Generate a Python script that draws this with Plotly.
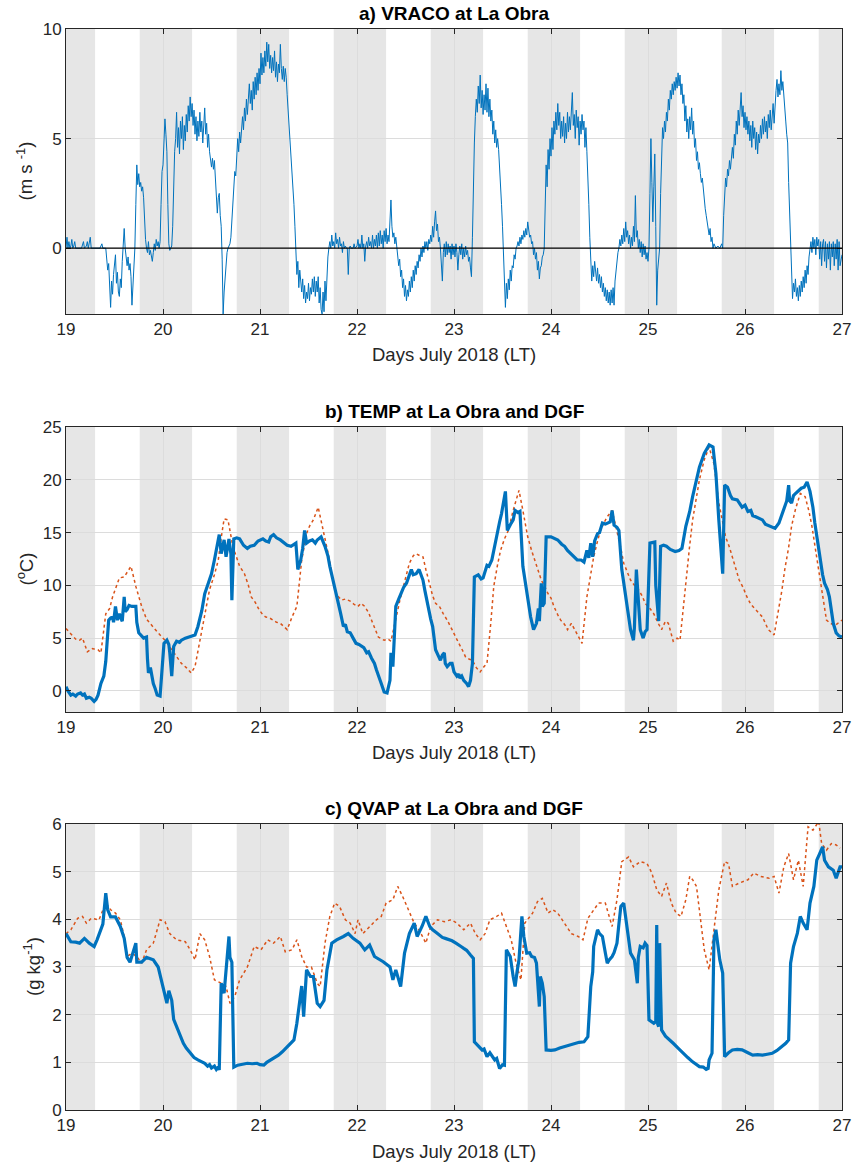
import plotly.graph_objects as go

# ---------------- data ----------------
DAY_TICKS = [19, 20, 21, 22, 23, 24, 25, 26, 27]
NIGHT_START = [19.00, 19.76, 20.76, 21.76, 22.76, 23.76, 24.76, 25.76, 26.76]
NIGHT_END = [19.30, 20.30, 21.30, 22.30, 23.30, 24.30, 25.30, 26.30, 27.00]

# a) VRACO at La Obra (m s-1): (day, value)
VRACO = [
(19.00,0.0),(19.01,0.5),(19.02,0.0),(19.03,0.3),(19.04,0.0),(19.05,0.1),(19.06,0.4),(19.07,0.0),(19.08,0.1),(19.09,0.3),
(19.10,0.0),(19.13,0.0),(19.16,0.0),(19.18,0.3),(19.19,0.0),(19.21,0.1),(19.22,0.3),(19.23,0.0),(19.24,0.2),(19.25,0.5),
(19.26,0.0),(19.29,0.0),(19.32,0.0),(19.35,0.0),(19.37,0.2),(19.38,0.0),(19.41,0.0),(19.42,-0.4),(19.43,-1.0),(19.44,-0.7),
(19.45,-1.8),(19.46,-2.7),(19.47,-1.5),(19.48,-2.1),(19.49,-1.2),(19.50,-0.8),(19.51,-0.3),(19.52,-1.6),(19.53,-1.1),(19.54,-2.0),
(19.55,-2.2),(19.56,-1.4),(19.57,-1.8),(19.58,-0.6),(19.59,0.2),(19.60,0.9),(19.61,0.0),(19.62,-0.5),(19.63,-0.8),(19.64,-0.4),
(19.65,-1.0),(19.66,-0.7),(19.67,-1.3),(19.68,-2.6),(19.69,-1.6),(19.70,-0.5),(19.71,0.0),(19.72,2.0),(19.73,3.8),(19.74,2.9),
(19.75,3.4),(19.76,2.8),(19.77,3.0),(19.78,2.6),(19.79,2.8),(19.80,2.3),(19.81,1.2),(19.82,0.4),(19.83,0.0),(19.84,-0.2),
(19.85,0.3),(19.86,-0.3),(19.87,-0.1),(19.88,-0.5),(19.89,-0.6),(19.90,-0.2),(19.91,0.2),(19.92,-0.1),(19.93,0.4),(19.94,0.1),
(19.95,0.3),(19.96,0.0),(19.97,0.3),(19.98,2.0),(19.99,3.5),(20.00,3.8),(20.01,4.8),(20.02,5.9),(20.03,5.2),(20.04,4.4),
(20.05,2.0),(20.06,0.2),(20.07,-0.1),(20.08,0.0),(20.09,0.1),(20.10,1.0),(20.11,2.8),(20.12,4.4),(20.13,5.0),(20.14,6.2),
(20.15,4.6),(20.16,5.5),(20.17,4.3),(20.18,5.8),(20.19,5.0),(20.20,6.0),(20.21,4.5),(20.22,5.6),(20.23,4.9),(20.24,6.1),
(20.25,5.3),(20.26,6.5),(20.27,5.8),(20.28,6.9),(20.29,6.0),(20.30,6.6),(20.31,5.6),(20.32,6.3),(20.33,5.2),(20.34,6.0),
(20.35,4.9),(20.36,5.8),(20.37,5.1),(20.38,6.2),(20.39,5.3),(20.40,5.8),(20.41,4.8),(20.42,5.6),(20.43,6.4),(20.44,5.2),
(20.45,5.7),(20.46,4.6),(20.47,5.2),(20.48,4.4),(20.49,3.9),(20.50,3.7),(20.51,4.1),(20.52,3.6),(20.53,4.0),(20.54,3.0),
(20.55,2.2),(20.56,1.6),(20.57,2.3),(20.58,2.5),(20.59,1.5),(20.60,1.0),(20.61,-0.5),(20.62,-3.0),(20.63,-2.0),(20.64,-1.2),
(20.65,-0.5),(20.66,-0.2),(20.67,0.0),(20.68,0.1),(20.69,0.2),(20.70,0.5),(20.71,1.2),(20.72,2.2),(20.73,3.0),(20.74,3.5),
(20.75,3.3),(20.76,4.2),(20.77,5.0),(20.78,4.4),(20.79,5.3),(20.80,4.8),(20.81,5.6),(20.82,6.0),(20.83,5.4),(20.84,6.4),
(20.85,5.8),(20.86,6.8),(20.87,6.1),(20.88,7.1),(20.89,7.5),(20.90,6.6),(20.91,7.2),(20.92,6.3),(20.93,7.6),(20.94,6.8),
(20.95,7.8),(20.96,7.0),(20.97,8.0),(20.98,7.2),(20.99,8.2),(21.00,7.5),(21.01,8.9),(21.02,7.9),(21.03,8.7),(21.04,8.0),
(21.05,9.0),(21.06,8.3),(21.07,9.4),(21.08,8.5),(21.09,9.3),(21.10,8.2),(21.11,8.8),(21.12,8.0),(21.13,8.7),(21.14,8.1),
(21.15,9.0),(21.16,7.8),(21.17,8.5),(21.18,7.6),(21.19,8.4),(21.20,8.0),(21.21,9.3),(21.22,8.2),(21.23,7.7),(21.24,8.3),
(21.25,7.6),(21.26,8.2),(21.27,7.8),(21.28,7.0),(21.29,6.3),(21.30,6.0),(21.31,5.2),(21.32,4.6),(21.33,3.8),(21.34,3.0),
(21.35,2.0),(21.36,1.0),(21.37,0.0),(21.38,-1.2),(21.39,-0.6),(21.40,-1.8),(21.41,-1.0),(21.42,-1.5),(21.43,-2.0),(21.44,-1.4),
(21.45,-2.3),(21.46,-1.7),(21.47,-2.5),(21.48,-2.0),(21.49,-2.3),(21.50,-1.6),(21.51,-2.4),(21.52,-1.8),(21.53,-2.1),(21.54,-1.4),
(21.55,-2.0),(21.56,-1.3),(21.57,-2.2),(21.58,-1.5),(21.59,-2.0),(21.60,-1.3),(21.61,-2.5),(21.62,-1.8),(21.63,-2.8),(21.64,-3.0),
(21.65,-2.0),(21.66,-2.9),(21.67,-1.5),(21.68,-2.4),(21.69,-1.0),(21.70,-0.4),(21.71,0.0),(21.72,0.3),(21.73,0.0),(21.74,0.6),
(21.75,0.1),(21.76,0.3),(21.77,0.0),(21.78,0.7),(21.79,0.2),(21.80,0.4),(21.81,0.0),(21.82,0.5),(21.83,0.1),(21.84,0.2),
(21.85,-0.2),(21.86,0.3),(21.87,0.0),(21.88,0.1),(21.89,0.0),(21.90,0.0),(21.91,-1.2),(21.92,0.0),(21.93,0.1),(21.94,0.0),
(21.96,0.0),(21.97,0.2),(21.98,0.0),(22.00,0.1),(22.01,0.4),(22.02,0.0),(22.03,0.2),(22.04,0.0),(22.05,0.6),(22.06,0.0),
(22.07,0.2),(22.08,-0.6),(22.09,0.1),(22.10,0.3),(22.11,0.0),(22.12,0.5),(22.13,0.1),(22.14,0.3),(22.15,0.0),(22.16,0.6),
(22.17,0.0),(22.18,0.4),(22.19,0.1),(22.20,0.6),(22.21,0.0),(22.22,0.7),(22.23,0.1),(22.24,0.8),(22.25,0.2),(22.26,0.6),
(22.27,0.0),(22.28,0.8),(22.29,0.3),(22.30,0.9),(22.31,0.2),(22.32,0.6),(22.33,0.3),(22.34,1.5),(22.35,2.2),(22.36,1.0),
(22.37,0.5),(22.38,0.7),(22.39,0.2),(22.40,0.5),(22.41,0.0),(22.42,-0.3),(22.43,-0.8),(22.44,-0.5),(22.45,-1.3),(22.46,-1.0),
(22.47,-1.8),(22.48,-1.4),(22.49,-2.2),(22.50,-1.7),(22.51,-2.4),(22.52,-1.9),(22.53,-2.2),(22.54,-1.5),(22.55,-2.0),(22.56,-1.3),
(22.57,-1.8),(22.58,-1.0),(22.59,-1.5),(22.60,-0.8),(22.61,-1.2),(22.62,-0.6),(22.63,-0.9),(22.64,-0.3),(22.65,-0.6),(22.66,0.0),
(22.67,-0.4),(22.68,0.1),(22.69,-0.2),(22.70,0.3),(22.71,0.0),(22.72,0.3),(22.73,-0.1),(22.74,0.4),(22.75,0.2),(22.76,0.6),
(22.77,0.3),(22.78,1.0),(22.79,0.5),(22.80,1.2),(22.81,1.7),(22.82,0.8),(22.83,1.1),(22.84,0.3),(22.85,0.5),(22.86,0.0),
(22.87,-0.6),(22.88,-1.5),(22.89,-0.2),(22.90,0.2),(22.91,-0.4),(22.92,0.3),(22.93,-0.3),(22.94,0.2),(22.95,-0.2),(22.96,0.1),
(22.97,-0.5),(22.98,0.2),(22.99,-0.3),(23.00,0.1),(23.01,-0.4),(23.02,0.2),(23.03,-0.2),(23.04,-1.0),(23.05,-0.3),(23.06,0.1),
(23.07,-0.3),(23.08,0.2),(23.09,-0.5),(23.10,0.0),(23.11,-0.4),(23.12,0.1),(23.13,-0.3),(23.14,-0.1),(23.15,-0.6),(23.16,-0.4),
(23.17,-0.9),(23.18,-1.3),(23.19,0.5),(23.20,3.0),(23.21,4.8),(23.22,6.0),(23.23,6.8),(23.24,6.2),(23.25,7.4),(23.26,6.6),
(23.27,7.9),(23.28,6.4),(23.29,7.2),(23.30,6.1),(23.31,7.0),(23.32,6.3),(23.33,7.5),(23.34,6.2),(23.35,7.3),(23.36,6.0),
(23.37,6.8),(23.38,5.8),(23.39,6.3),(23.40,5.2),(23.41,5.8),(23.42,4.8),(23.43,5.4),(23.44,4.6),(23.45,5.0),(23.46,4.5),
(23.47,3.8),(23.48,3.0),(23.49,2.0),(23.50,1.0),(23.51,-0.5),(23.52,-1.5),(23.53,-2.7),(23.54,-1.6),(23.55,-2.3),(23.56,-1.4),
(23.57,-1.9),(23.58,-1.0),(23.59,-1.5),(23.60,-0.8),(23.61,-0.9),(23.62,-0.3),(23.63,-0.5),(23.64,0.0),(23.65,0.1),(23.66,0.3),
(23.67,0.1),(23.68,0.5),(23.69,0.2),(23.70,0.6),(23.71,0.4),(23.72,0.8),(23.73,0.5),(23.74,0.9),(23.75,0.6),(23.76,1.2),
(23.77,0.7),(23.78,0.5),(23.79,0.6),(23.80,0.2),(23.81,0.3),(23.82,-0.3),(23.83,0.0),(23.84,-0.5),(23.85,-0.2),(23.86,-1.0),
(23.87,-0.6),(23.88,-1.4),(23.89,-0.9),(23.90,-0.8),(23.91,-0.4),(23.92,-0.3),(23.93,0.0),(23.94,2.0),(23.95,3.8),(23.96,2.8),
(23.97,4.5),(23.98,3.6),(23.99,5.0),(24.00,4.2),(24.01,5.5),(24.02,4.5),(24.03,5.8),(24.04,5.2),(24.05,6.2),(24.06,5.4),
(24.07,6.6),(24.08,5.6),(24.09,6.2),(24.10,5.0),(24.11,5.8),(24.12,5.1),(24.13,6.0),(24.14,4.8),(24.15,5.7),(24.16,5.0),
(24.17,6.2),(24.18,5.3),(24.19,6.0),(24.20,5.4),(24.21,6.6),(24.22,7.1),(24.23,5.6),(24.24,6.1),(24.25,5.0),(24.26,6.3),
(24.27,5.5),(24.28,6.0),(24.29,4.7),(24.30,5.8),(24.31,5.2),(24.32,6.1),(24.33,5.4),(24.34,5.8),(24.35,4.6),(24.36,5.5),
(24.37,4.4),(24.38,3.5),(24.39,2.0),(24.40,0.5),(24.41,-0.5),(24.42,-1.5),(24.43,-0.8),(24.44,-1.3),(24.45,-0.6),(24.46,-1.2),
(24.47,-1.5),(24.48,-0.9),(24.49,-1.6),(24.50,-1.2),(24.51,-1.8),(24.52,-1.3),(24.53,-2.0),(24.54,-1.6),(24.55,-2.2),(24.56,-1.8),
(24.57,-2.4),(24.58,-1.9),(24.59,-2.5),(24.60,-2.0),(24.61,-2.6),(24.62,-1.9),(24.63,-2.5),(24.64,-1.8),(24.65,-2.6),(24.66,-1.5),
(24.67,-1.0),(24.68,-0.6),(24.69,-0.2),(24.70,0.0),(24.71,0.4),(24.72,0.1),(24.73,0.6),(24.74,0.2),(24.75,0.9),(24.76,0.3),
(24.77,1.2),(24.78,0.5),(24.79,0.8),(24.80,0.2),(24.81,0.6),(24.82,0.0),(24.83,0.5),(24.84,0.1),(24.85,1.0),(24.86,0.3),
(24.87,2.4),(24.88,0.5),(24.89,0.8),(24.90,0.0),(24.91,0.4),(24.92,-0.2),(24.93,0.3),(24.94,-0.4),(24.95,0.2),(24.96,-0.3),
(24.97,0.1),(24.98,-0.5),(24.99,-0.2),(25.00,-0.6),(25.01,0.0),(25.02,2.5),(25.03,5.0),(25.04,3.0),(25.05,1.2),(25.06,2.8),
(25.07,4.3),(25.08,1.0),(25.09,-2.6),(25.10,-1.0),(25.11,-0.3),(25.12,0.0),(25.13,2.5),(25.14,4.4),(25.15,5.5),(25.16,5.0),
(25.17,5.8),(25.18,5.3),(25.19,6.2),(25.20,5.8),(25.21,6.8),(25.22,6.3),(25.23,7.2),(25.24,6.8),(25.25,7.5),(25.26,7.0),
(25.27,7.6),(25.28,7.2),(25.29,7.8),(25.30,7.3),(25.31,8.0),(25.32,7.4),(25.33,7.9),(25.34,7.0),(25.35,7.5),(25.36,6.6),
(25.37,7.0),(25.38,5.8),(25.39,6.5),(25.40,5.3),(25.41,5.9),(25.42,5.0),(25.43,6.0),(25.44,5.4),(25.45,6.4),(25.46,5.2),
(25.47,5.8),(25.48,4.6),(25.49,5.0),(25.50,4.0),(25.51,4.4),(25.52,3.6),(25.53,3.9),(25.54,3.4),(25.55,3.0),(25.56,3.2),
(25.57,2.6),(25.58,2.2),(25.59,1.8),(25.60,1.5),(25.61,1.1),(25.62,0.8),(25.63,0.6),(25.64,0.9),(25.65,0.3),(25.66,0.5),
(25.67,0.0),(25.68,0.2),(25.70,0.0),(25.72,0.1),(25.74,0.0),(25.76,0.2),(25.77,0.0),(25.78,1.5),(25.79,2.5),(25.80,3.2),
(25.81,2.8),(25.82,3.6),(25.83,3.3),(25.84,4.0),(25.85,3.6),(25.86,4.2),(25.87,4.6),(25.88,4.1),(25.89,5.2),(25.90,4.7),
(25.91,5.8),(25.92,5.2),(25.93,6.3),(25.94,5.6),(25.95,6.7),(25.96,7.1),(25.97,6.0),(25.98,6.5),(25.99,5.5),(26.00,6.2),
(26.01,5.4),(26.02,6.0),(26.03,5.2),(26.04,5.8),(26.05,4.9),(26.06,5.6),(26.07,4.6),(26.08,5.8),(26.09,5.0),(26.10,5.5),
(26.11,4.5),(26.12,5.3),(26.13,4.3),(26.14,5.2),(26.15,4.8),(26.16,5.6),(26.17,5.0),(26.18,5.9),(26.19,5.2),(26.20,6.0),
(26.21,5.3),(26.22,5.8),(26.23,5.0),(26.24,6.1),(26.25,5.5),(26.26,6.3),(26.27,5.4),(26.28,6.0),(26.29,6.6),(26.30,5.7),
(26.31,6.8),(26.32,7.2),(26.33,7.7),(26.34,6.9),(26.35,7.5),(26.36,7.0),(26.37,8.1),(26.38,7.2),(26.39,7.6),(26.40,6.8),
(26.41,6.5),(26.42,5.8),(26.43,5.2),(26.44,4.8),(26.45,3.0),(26.46,1.5),(26.47,0.0),(26.48,-1.5),(26.49,-2.3),(26.50,-1.6),
(26.51,-2.0),(26.52,-1.4),(26.53,-2.2),(26.54,-1.8),(26.55,-2.4),(26.56,-1.7),(26.57,-2.2),(26.58,-1.5),(26.59,-2.0),(26.60,-1.3),
(26.61,-1.8),(26.62,-1.0),(26.63,-1.6),(26.64,-0.8),(26.65,-1.2),(26.66,-0.4),(26.67,0.0),(26.68,0.3),(26.69,-0.2),(26.70,0.5),
(26.71,0.0),(26.72,0.4),(26.73,-0.3),(26.74,0.5),(26.75,0.1),(26.76,0.4),(26.77,-0.5),(26.78,0.3),(26.79,-0.8),(26.80,0.2),
(26.81,0.4),(26.82,-0.6),(26.83,0.3),(26.84,-0.9),(26.85,0.2),(26.86,-0.5),(26.87,0.3),(26.88,-1.0),(26.89,0.2),(26.90,-0.4),
(26.91,0.3),(26.92,-0.8),(26.93,0.2),(26.94,-0.5),(26.95,0.4),(26.96,-1.0),(26.97,0.3),(26.98,-0.8),(27.00,-0.3),
]

# b) TEMP at La Obra (blue) and DGF (orange), deg C
TEMP_OBRA = [
(19.00,0.4),(19.02,0.0),(19.05,-0.4),(19.07,-0.3),(19.10,-0.5),(19.12,-0.3),(19.15,-0.2),(19.17,-0.4),(19.19,-0.3),(19.21,-0.7),
(19.24,-0.6),(19.26,-0.7),(19.28,-0.9),(19.29,-1.0),(19.31,-0.8),(19.33,-0.4),(19.36,0.7),(19.39,1.4),(19.41,2.8),(19.43,6.1),
(19.44,6.7),(19.46,6.9),(19.48,7.0),(19.49,6.5),(19.51,8.0),(19.53,6.7),(19.55,7.3),(19.56,7.0),(19.58,6.6),(19.60,8.9),
(19.61,7.5),(19.63,7.7),(19.65,8.1),(19.68,8.0),(19.72,8.0),(19.73,6.5),(19.75,5.5),(19.80,5.0),(19.83,5.1),(19.84,3.0),
(19.85,1.7),(19.87,2.2),(19.88,1.7),(19.90,0.7),(19.92,0.2),(19.94,-0.4),(19.97,-0.5),(19.99,2.5),(20.01,4.5),(20.04,4.8),
(20.06,4.4),(20.07,3.6),(20.09,1.4),(20.11,4.2),(20.14,4.7),(20.17,4.6),(20.19,4.8),(20.23,5.0),(20.26,5.1),(20.30,5.2),
(20.33,5.3),(20.36,6.1),(20.40,7.6),(20.43,9.2),(20.47,10.3),(20.50,11.1),(20.53,12.4),(20.55,13.3),(20.58,14.8),(20.60,13.0),
(20.63,14.3),(20.65,12.7),(20.68,14.4),(20.70,13.0),(20.71,8.6),(20.73,14.4),(20.76,14.5),(20.79,14.4),(20.83,13.8),(20.87,13.5),
(20.90,13.7),(20.94,13.8),(20.98,14.2),(21.03,14.4),(21.06,14.2),(21.09,14.1),(21.11,14.6),(21.14,14.8),(21.17,14.5),(21.21,14.3),
(21.25,14.0),(21.28,13.8),(21.32,13.7),(21.37,14.0),(21.39,11.5),(21.42,12.4),(21.44,13.5),(21.46,15.2),(21.48,14.0),(21.51,14.2),
(21.54,14.3),(21.57,14.0),(21.59,14.3),(21.63,14.6),(21.67,13.7),(21.70,12.8),(21.72,11.8),(21.76,10.3),(21.79,8.9),(21.83,7.4),
(21.86,6.1),(21.88,6.3),(21.90,5.6),(21.93,5.5),(21.96,5.0),(21.99,4.5),(22.02,4.4),(22.05,4.2),(22.07,4.1),(22.10,3.6),
(22.12,3.7),(22.15,3.1),(22.18,2.6),(22.20,2.0),(22.23,1.3),(22.25,0.7),(22.28,-0.1),(22.31,-0.2),(22.34,1.0),(22.35,3.6),
(22.37,2.3),(22.38,4.5),(22.40,8.0),(22.43,8.7),(22.45,9.2),(22.48,9.8),(22.51,10.2),(22.53,10.8),(22.56,11.5),(22.58,11.0),
(22.61,11.1),(22.64,11.5),(22.68,10.5),(22.70,9.5),(22.73,8.0),(22.76,6.8),(22.78,6.1),(22.81,3.9),(22.84,3.3),(22.86,2.9),
(22.88,3.4),(22.90,3.6),(22.91,2.6),(22.93,2.3),(22.96,2.6),(22.98,2.6),(23.00,1.8),(23.03,1.4),(23.05,1.6),(23.06,1.2),
(23.08,1.4),(23.10,1.0),(23.13,0.7),(23.15,0.4),(23.17,1.0),(23.19,2.6),(23.21,10.8),(23.25,11.0),(23.28,10.6),(23.30,10.7),
(23.34,11.9),(23.36,11.8),(23.39,12.4),(23.42,13.8),(23.44,14.9),(23.47,16.0),(23.49,16.8),(23.53,18.9),(23.55,15.2),(23.57,15.6),
(23.59,15.9),(23.61,16.2),(23.63,17.1),(23.66,16.9),(23.68,17.0),(23.71,11.8),(23.74,10.0),(23.76,8.9),(23.79,7.0),(23.82,5.8),
(23.85,6.4),(23.87,7.8),(23.88,6.6),(23.90,10.2),(23.91,8.0),(23.93,8.3),(23.95,14.6),(24.00,14.6),(24.04,14.4),(24.07,14.3),
(24.11,13.9),(24.14,13.7),(24.17,13.3),(24.20,13.0),(24.24,12.7),(24.27,12.4),(24.31,12.4),(24.34,12.2),(24.37,13.3),(24.39,12.6),
(24.41,14.0),(24.43,12.7),(24.45,14.2),(24.48,14.9),(24.50,15.0),(24.53,15.9),(24.56,15.8),(24.58,15.9),(24.61,16.0),(24.63,17.1),
(24.65,15.7),(24.68,15.5),(24.70,15.2),(24.73,11.5),(24.76,9.6),(24.78,8.3),(24.80,7.0),(24.82,5.8),(24.85,4.8),(24.86,6.0),
(24.88,11.5),(24.90,8.0),(24.92,5.8),(24.95,5.0),(24.97,5.6),(24.99,5.8),(25.02,14.0),(25.07,14.1),(25.08,10.0),(25.11,6.6),
(25.13,13.7),(25.16,13.8),(25.19,13.7),(25.23,13.4),(25.28,13.2),(25.32,13.3),(25.35,13.5),(25.39,15.6),(25.43,17.0),(25.46,18.4),
(25.50,20.0),(25.53,21.2),(25.58,22.5),(25.63,23.3),(25.67,23.1),(25.70,20.6),(25.73,16.2),(25.77,11.1),(25.79,19.5),(25.82,19.3),
(25.85,18.5),(25.87,18.2),(25.92,18.1),(25.95,17.6),(25.97,17.4),(26.00,17.6),(26.03,17.0),(26.06,17.1),(26.08,16.6),(26.11,16.5),
(26.15,16.3),(26.18,16.2),(26.21,15.8),(26.24,15.7),(26.28,15.5),(26.31,15.4),(26.35,15.9),(26.40,17.1),(26.43,18.0),(26.45,19.5),
(26.46,18.0),(26.48,17.8),(26.50,18.5),(26.52,18.7),(26.55,19.0),(26.58,19.2),(26.61,19.3),(26.64,19.8),(26.67,18.9),(26.70,17.4),
(26.72,15.9),(26.75,14.0),(26.77,12.4),(26.80,11.0),(26.82,10.2),(26.85,9.6),(26.87,8.9),(26.89,7.6),(26.91,6.4),(26.94,5.5),
(26.97,5.2),(27.00,5.1),
]
TEMP_DGF = [
(19.00,5.9),(19.04,5.5),(19.07,5.3),(19.10,4.9),(19.14,4.8),(19.17,5.0),(19.22,3.7),(19.27,4.0),(19.33,3.9),(19.36,3.6),
(19.41,7.3),(19.45,7.8),(19.48,8.9),(19.52,9.9),(19.55,10.7),(19.60,10.8),(19.67,11.8),(19.72,9.9),(19.78,8.0),(19.83,6.8),
(19.89,6.1),(19.94,5.6),(19.99,5.1),(20.04,4.6),(20.09,3.9),(20.14,3.2),(20.19,2.6),(20.24,2.2),(20.29,1.7),(20.33,2.3),
(20.40,5.8),(20.44,7.8),(20.48,9.6),(20.53,11.0),(20.57,12.4),(20.60,14.5),(20.63,16.3),(20.67,16.2),(20.72,13.7),(20.79,11.8),
(20.84,11.1),(20.88,10.0),(20.91,8.9),(20.95,8.4),(20.99,7.7),(21.03,7.2),(21.06,7.0),(21.10,6.9),(21.14,6.7),(21.17,6.5),
(21.21,6.4),(21.25,6.0),(21.28,5.8),(21.33,7.0),(21.38,8.0),(21.43,12.4),(21.48,14.9),(21.51,15.6),(21.55,16.2),(21.60,17.4),
(21.65,15.2),(21.71,12.7),(21.77,9.6),(21.80,9.0),(21.84,8.6),(21.88,8.7),(21.93,8.5),(21.97,8.2),(22.01,8.0),(22.04,8.3),
(22.08,8.0),(22.12,7.4),(22.15,6.7),(22.19,5.8),(22.22,5.1),(22.28,4.8),(22.32,4.9),(22.35,4.7),(22.40,7.0),(22.44,8.5),
(22.47,9.6),(22.51,11.0),(22.54,12.1),(22.58,12.8),(22.61,13.0),(22.65,12.8),(22.68,12.7),(22.71,11.5),(22.74,10.5),(22.78,9.0),
(22.81,8.3),(22.85,8.0),(22.89,7.3),(22.93,6.7),(22.98,5.8),(23.02,5.0),(23.05,4.5),(23.09,3.8),(23.12,3.2),(23.16,3.0),
(23.19,2.9),(23.23,2.2),(23.27,1.8),(23.31,2.3),(23.34,2.6),(23.38,6.5),(23.41,9.9),(23.45,12.0),(23.48,13.3),(23.52,14.4),
(23.56,15.2),(23.61,17.1),(23.67,19.0),(23.71,17.1),(23.74,15.8),(23.76,14.6),(23.80,13.3),(23.83,12.4),(23.87,11.3),(23.90,10.5),
(23.94,9.8),(23.97,9.2),(24.00,8.8),(24.03,8.0),(24.07,7.2),(24.10,6.7),(24.14,6.3),(24.17,5.8),(24.21,6.4),(24.24,5.9),
(24.28,5.2),(24.32,4.5),(24.37,8.9),(24.40,10.5),(24.44,12.7),(24.48,14.2),(24.51,15.2),(24.55,16.0),(24.58,16.5),(24.63,17.1),
(24.68,15.2),(24.72,13.5),(24.75,12.1),(24.79,11.1),(24.82,10.5),(24.86,10.0),(24.90,9.6),(24.94,9.0),(24.97,8.3),(25.02,7.8),
(25.06,7.3),(25.10,6.5),(25.14,5.8),(25.18,6.6),(25.21,6.4),(25.26,4.7),(25.30,5.0),(25.33,4.8),(25.36,7.5),(25.39,10.8),
(25.43,13.8),(25.46,16.2),(25.50,18.4),(25.53,20.0),(25.58,21.9),(25.63,23.1),(25.68,21.5),(25.73,17.8),(25.77,16.0),(25.80,14.6),
(25.84,13.6),(25.87,12.7),(25.91,11.4),(25.94,10.5),(25.98,9.8),(26.02,8.9),(26.06,8.2),(26.11,7.7),(26.15,7.4),(26.18,7.0),
(26.21,6.4),(26.24,5.8),(26.30,5.3),(26.35,7.7),(26.38,9.5),(26.41,11.5),(26.45,13.6),(26.48,15.6),(26.52,17.2),(26.57,18.7),
(26.62,18.4),(26.66,17.0),(26.69,15.6),(26.73,13.2),(26.77,10.8),(26.81,8.6),(26.84,6.7),(26.88,6.4),(26.93,6.2),(26.97,6.5),
(27.00,6.7),
]

# c) QVAP at La Obra (blue) and DGF (orange), g kg-1
QVAP_OBRA = [
(19.00,3.7),(19.05,3.53),(19.10,3.52),(19.14,3.5),(19.19,3.6),(19.24,3.5),(19.29,3.43),(19.32,3.57),(19.38,3.9),(19.41,4.55),
(19.43,4.2),(19.46,4.05),(19.51,4.05),(19.56,3.85),(19.60,3.6),(19.63,3.2),(19.66,3.1),(19.72,3.5),(19.73,3.1),(19.78,3.1),
(19.83,3.2),(19.90,3.15),(19.95,3.0),(19.99,2.66),(20.04,2.24),(20.06,2.5),(20.09,2.3),(20.11,1.9),(20.13,1.8),(20.16,1.68),
(20.18,1.55),(20.21,1.4),(20.24,1.3),(20.28,1.2),(20.32,1.1),(20.36,1.05),(20.40,1.0),(20.43,0.98),(20.46,0.92),(20.48,0.95),
(20.50,0.88),(20.53,0.92),(20.55,0.85),(20.57,0.9),(20.58,0.84),(20.60,2.66),(20.63,2.45),(20.65,3.0),(20.68,3.64),(20.69,3.2),
(20.71,3.1),(20.73,0.9),(20.75,0.92),(20.77,0.94),(20.82,0.96),(20.87,0.98),(20.92,0.97),(20.97,0.98),(21.00,0.95),(21.04,0.94),
(21.07,1.0),(21.11,1.05),(21.15,1.1),(21.19,1.15),(21.23,1.22),(21.28,1.33),(21.32,1.4),(21.35,1.47),(21.38,1.82),(21.41,2.24),
(21.43,2.6),(21.45,1.96),(21.48,2.94),(21.52,2.8),(21.55,2.8),(21.59,2.24),(21.62,2.17),(21.66,2.3),(21.69,2.94),(21.74,3.5),
(21.79,3.57),(21.86,3.64),(21.91,3.7),(21.96,3.6),(22.03,3.5),(22.08,3.36),(22.13,3.46),(22.18,3.22),(22.27,3.11),(22.34,3.0),
(22.37,2.73),(22.40,2.94),(22.45,2.59),(22.49,3.29),(22.54,3.7),(22.59,3.92),(22.62,3.64),(22.67,3.85),(22.71,4.06),(22.75,3.85),
(22.78,3.78),(22.82,3.72),(22.85,3.67),(22.88,3.62),(22.91,3.6),(22.95,3.58),(22.98,3.55),(23.02,3.5),(23.05,3.45),(23.08,3.42),
(23.10,3.39),(23.13,3.35),(23.17,3.25),(23.20,3.18),(23.21,1.43),(23.25,1.35),(23.29,1.26),(23.31,1.28),(23.34,1.12),(23.37,1.2),
(23.39,1.15),(23.42,1.05),(23.44,1.08),(23.47,0.87),(23.50,0.95),(23.52,0.94),(23.54,3.36),(23.58,3.22),(23.61,2.8),(23.63,2.59),
(23.65,2.9),(23.67,3.15),(23.70,4.06),(23.72,3.64),(23.75,3.29),(23.78,3.3),(23.80,3.22),(23.83,3.2),(23.85,3.08),(23.87,2.5),
(23.88,2.17),(23.89,2.8),(23.91,2.66),(23.93,2.38),(23.95,1.26),(24.00,1.25),(24.04,1.26),(24.09,1.3),(24.14,1.33),(24.19,1.36),
(24.24,1.4),(24.29,1.42),(24.34,1.43),(24.38,1.54),(24.41,2.59),(24.43,2.9),(24.44,3.43),(24.46,3.6),(24.48,3.78),(24.50,3.7),
(24.53,3.64),(24.56,3.3),(24.58,3.08),(24.60,3.15),(24.63,3.22),(24.65,3.3),(24.68,3.5),(24.70,3.9),(24.72,4.27),(24.75,4.34),
(24.78,3.85),(24.80,3.5),(24.82,3.29),(24.86,3.15),(24.89,2.66),(24.90,3.2),(24.92,3.43),(24.95,3.4),(24.97,3.5),(24.99,3.45),
(25.01,1.89),(25.06,1.82),(25.08,1.85),(25.09,3.88),(25.10,1.8),(25.11,1.75),(25.12,3.5),(25.13,2.5),(25.14,1.68),(25.18,1.55),
(25.22,1.48),(25.26,1.4),(25.31,1.3),(25.36,1.19),(25.41,1.1),(25.46,1.01),(25.50,0.95),(25.53,0.91),(25.57,0.9),(25.60,0.85),
(25.62,0.87),(25.63,1.05),(25.66,1.19),(25.68,3.57),(25.70,3.78),(25.72,3.4),(25.74,3.15),(25.77,2.87),(25.79,1.12),(25.83,1.2),
(25.87,1.26),(25.92,1.27),(25.97,1.26),(26.03,1.2),(26.08,1.15),(26.13,1.16),(26.18,1.15),(26.23,1.17),(26.28,1.19),(26.33,1.25),
(26.38,1.33),(26.42,1.4),(26.45,1.47),(26.47,3.08),(26.50,3.43),(26.54,3.71),(26.57,4.06),(26.60,3.92),(26.64,3.78),(26.67,4.34),
(26.71,4.69),(26.74,5.24),(26.77,5.38),(26.80,5.52),(26.82,5.24),(26.86,5.1),(26.91,5.03),(26.94,4.86),(26.98,5.1),(27.00,5.1),
]
QVAP_DGF = [
(19.00,3.7),(19.05,3.78),(19.12,4.02),(19.17,4.06),(19.21,3.92),(19.26,4.02),(19.34,3.99),(19.41,4.34),(19.46,4.2),(19.51,4.13),
(19.56,3.99),(19.60,3.64),(19.63,3.22),(19.68,3.29),(19.73,3.22),(19.78,3.08),(19.83,3.36),(19.90,3.5),(19.97,3.99),(20.02,3.95),
(20.07,3.7),(20.14,3.57),(20.23,3.53),(20.28,3.36),(20.33,3.15),(20.38,3.7),(20.43,3.57),(20.48,3.22),(20.53,2.73),(20.60,2.66),
(20.65,2.59),(20.69,2.24),(20.74,2.38),(20.79,2.73),(20.87,3.0),(20.94,3.43),(21.01,3.36),(21.08,3.57),(21.14,3.5),(21.21,3.64),
(21.26,3.32),(21.33,3.36),(21.38,3.57),(21.43,3.22),(21.48,3.0),(21.53,3.0),(21.59,2.66),(21.62,2.59),(21.67,3.5),(21.72,4.06),
(21.77,4.34),(21.82,4.27),(21.88,3.99),(21.93,3.92),(21.98,3.7),(22.01,3.99),(22.06,3.7),(22.13,3.85),(22.20,3.99),(22.25,4.06),
(22.30,4.34),(22.37,4.41),(22.42,4.69),(22.47,4.48),(22.54,4.13),(22.59,3.92),(22.64,3.78),(22.69,3.57),(22.71,3.5),(22.76,3.85),
(22.83,3.99),(22.90,3.95),(22.97,3.99),(23.03,3.92),(23.10,3.78),(23.17,3.92),(23.22,3.7),(23.27,3.57),(23.32,3.7),(23.37,3.99),
(23.44,4.06),(23.49,4.13),(23.54,3.85),(23.59,3.57),(23.64,3.08),(23.69,2.73),(23.73,3.92),(23.76,3.99),(23.81,4.13),(23.86,4.37),
(23.91,4.44),(23.97,4.13),(24.02,4.2),(24.07,4.13),(24.14,3.92),(24.21,3.7),(24.28,3.64),(24.33,3.57),(24.38,4.02),(24.44,4.2),
(24.49,4.34),(24.56,4.34),(24.63,3.85),(24.68,4.41),(24.73,5.21),(24.80,5.31),(24.85,5.1),(24.92,5.21),(24.99,5.17),(25.04,4.97),
(25.09,4.62),(25.14,4.48),(25.19,4.76),(25.24,4.34),(25.29,4.13),(25.34,4.06),(25.39,4.41),(25.43,4.9),(25.46,4.83),(25.50,4.69),
(25.53,4.2),(25.58,3.36),(25.63,2.94),(25.68,3.78),(25.73,4.62),(25.79,5.21),(25.83,5.17),(25.87,4.69),(25.94,4.76),(26.03,4.83),
(26.09,4.97),(26.16,4.9),(26.25,4.86),(26.30,4.9),(26.35,4.55),(26.40,5.1),(26.45,5.38),(26.50,4.83),(26.55,5.24),(26.60,4.69),
(26.65,5.94),(26.70,5.87),(26.76,6.05),(26.79,5.59),(26.84,5.45),(26.89,5.59),(26.94,5.56),(26.98,5.49),
]

TITLES = ["a) VRACO at La Obra", "b) TEMP at La Obra and DGF", "c) QVAP at La Obra and DGF"]
YTITLES = ["(m s <sup>-1</sup>)", "(<sup>o</sup>C)", "(g kg<sup>-1</sup>)"]
XTITLE = "Days July 2018 (LT)"
YRANGES = [[-3, 10], [-2, 25], [0, 6]]
YTICKS = [[0, 5, 10], [0, 5, 10, 15, 20, 25], [0, 1, 2, 3, 4, 5, 6]]
ZERO_LINE = 0

# ---------------- styling ----------------
BLUE = "#0072BD"
ORANGE = "#D95319"
AX = "#262626"
GRID = "#DCDCDC"
NIGHT = "#E6E6E6"
FONT = "Liberation Sans, Arial, Helvetica, sans-serif"
DOMAINS = [[0.7364, 1.0], [0.3682, 0.6318], [0.0, 0.2646]]
YTITLE_SHIFT = [-41, -41, -34]


def split(points):
    return [p[0] for p in points], [p[1] for p in points]


fig = go.Figure()

t, v = split(VRACO)
fig.add_trace(go.Scatter(x=t, y=v, mode="lines", line=dict(color=BLUE, width=1), xaxis="x", yaxis="y"))

t, v = split(TEMP_DGF)
fig.add_trace(go.Scatter(x=t, y=v, mode="lines", line=dict(color=ORANGE, width=1.5, dash="dot"), xaxis="x2", yaxis="y2"))
t, v = split(TEMP_OBRA)
fig.add_trace(go.Scatter(x=t, y=v, mode="lines", line=dict(color=BLUE, width=3.2), xaxis="x2", yaxis="y2"))

t, v = split(QVAP_DGF)
fig.add_trace(go.Scatter(x=t, y=v, mode="lines", line=dict(color=ORANGE, width=1.5, dash="dot"), xaxis="x3", yaxis="y3"))
t, v = split(QVAP_OBRA)
fig.add_trace(go.Scatter(x=t, y=v, mode="lines", line=dict(color=BLUE, width=3.2), xaxis="x3", yaxis="y3"))

shapes = []
annotations = []
layout = dict(
    width=863, height=1165,
    margin=dict(l=66, r=13, t=29, b=55),
    paper_bgcolor="white", plot_bgcolor="white",
    showlegend=False,
    font=dict(family=FONT, color=AX, size=17),
)

for i in range(3):
    sfx = "" if i == 0 else str(i + 1)
    xname, yname = "xaxis" + sfx, "yaxis" + sfx
    xref, yref = "x" + sfx, "y" + sfx
    common = dict(
        showline=True, linecolor=AX, linewidth=1, mirror="allticks",
        ticks="inside", ticklen=5, tickcolor=AX, tickwidth=1,
        showgrid=True, gridcolor=GRID, gridwidth=1, zeroline=False,
        tickfont=dict(family=FONT, size=17, color=AX),
    )
    layout[xname] = dict(common, range=[DAY_TICKS[0], DAY_TICKS[-1]], tickvals=DAY_TICKS,
                         domain=[0, 1], anchor=yref)
    layout[yname] = dict(common, range=YRANGES[i], tickvals=YTICKS[i],
                         domain=DOMAINS[i], anchor=xref)
    for s, e in zip(NIGHT_START, NIGHT_END):
        shapes.append(dict(type="rect", xref=xref, yref=yref + " domain", x0=s, x1=e, y0=0, y1=1,
                           fillcolor=NIGHT, line=dict(width=0), layer="below"))
    annotations.append(dict(text="<b>" + TITLES[i] + "</b>", xref=xref + " domain", yref=yref + " domain",
                            x=0.5, y=1, xanchor="center", yanchor="bottom", yshift=3, showarrow=False,
                            font=dict(family=FONT, size=19, color="black")))
    annotations.append(dict(text=XTITLE, xref=xref + " domain", yref=yref + " domain",
                            x=0.5, y=0, xanchor="center", yanchor="middle", yshift=-41, showarrow=False,
                            font=dict(family=FONT, size=18.5, color=AX)))
    annotations.append(dict(text=YTITLES[i], xref=xref + " domain", yref=yref + " domain",
                            x=0, y=0.5, xanchor="center", yanchor="middle", xshift=YTITLE_SHIFT[i],
                            textangle=-90, showarrow=False,
                            font=dict(family=FONT, size=18.5, color=AX)))

shapes.append(dict(type="line", xref="x domain", yref="y", x0=0, x1=1, y0=ZERO_LINE, y1=ZERO_LINE,
                   line=dict(color="black", width=1.2), layer="above"))

layout["shapes"] = shapes
layout["annotations"] = annotations
fig.update_layout(**layout)
fig.write_html("out.html")
